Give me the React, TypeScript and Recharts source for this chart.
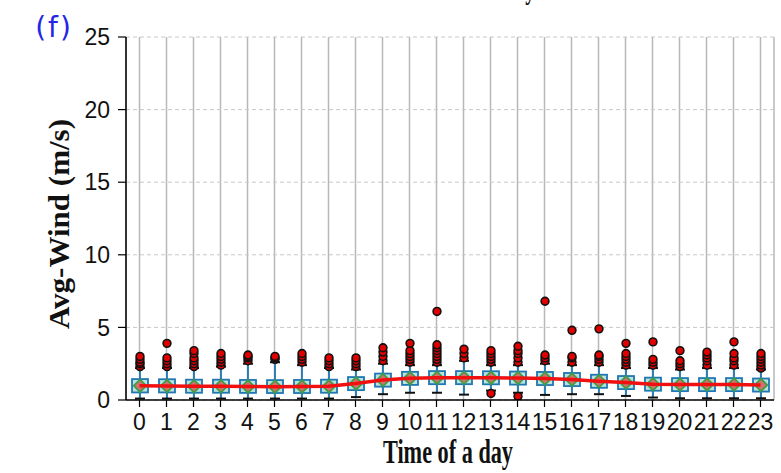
import React from 'react';
import { ComposedChart, Bar, Line, XAxis, YAxis, CartesianGrid } from 'recharts';

const hours = ['0','1','2','3','4','5','6','7','8','9','10','11','12','13','14','15','16','17','18','19','20','21','22','23'];
const means = [0.98,0.97,0.94,0.94,0.93,0.92,0.93,0.94,1.13,1.37,1.49,1.54,1.54,1.53,1.51,1.48,1.41,1.29,1.2,1.09,1.06,1.06,1.06,1.03];
const q1s = [0.52,0.52,0.5,0.5,0.49,0.48,0.48,0.5,0.68,0.92,1.04,1.09,1.09,1.08,1.06,1.03,0.96,0.84,0.75,0.64,0.61,0.61,0.61,0.58];
const q3s = [1.44,1.43,1.4,1.4,1.38,1.37,1.38,1.4,1.58,1.82,1.94,1.99,1.99,1.98,1.96,1.93,1.86,1.74,1.65,1.54,1.51,1.51,1.51,1.48];
const whiskLow = [0.1,0.1,0.1,0.1,0.1,0.1,0.1,0.1,0.2,0.4,0.5,0.5,0.37,0.65,0.5,0.35,0.4,0.4,0.28,0.17,0.12,0.12,0.12,0.12];
const whiskHigh = [2.2,2.2,2.2,2.3,2.5,2.6,2.4,2.2,2.1,2.5,2.4,2.4,2.7,2.4,2.4,2.5,2.4,2.4,2.2,2.2,2.1,2.2,2.2,2.1];
const outliers: number[][] = [
  [2.3,2.5,2.6,2.8,3.0],
  [2.3,2.5,2.7,2.9,3.9],
  [2.3,2.5,2.7,2.9,3.2,3.4],
  [2.4,2.6,2.8,3.0,3.2],
  [2.7,2.9,3.0,3.1],
  [2.8,2.9,3.0],
  [2.6,2.8,3.0,3.2],
  [2.3,2.5,2.7,2.9],
  [2.3,2.5,2.7,2.9],
  [2.7,3.0,3.3,3.6],
  [2.6,2.8,3.0,3.2,3.4,3.9],
  [2.6,2.8,3.0,3.2,3.4,3.6,3.8,6.1],
  [2.9,3.2,3.5],
  [0.45,2.6,2.8,3.0,3.2,3.4],
  [0.25,2.6,2.9,3.2,3.4,3.7],
  [2.7,2.9,3.1,6.8],
  [2.6,2.9,3.0,4.8],
  [2.6,2.8,3.0,3.1,4.9],
  [2.4,2.6,2.8,3.0,3.2,3.9],
  [2.4,2.6,2.8,4.0],
  [2.3,2.5,2.7,3.4],
  [2.4,2.7,2.9,3.1,3.3],
  [2.4,2.7,2.9,3.2,4.0],
  [2.2,2.4,2.6,2.8,3.0,3.2],
];
const yTicks = [0, 5, 10, 15, 20, 25];

const rows = hours.map((h, i) => ({
  hour: h,
  mean: means[i],
  q1: q1s[i],
  q3: q3s[i],
  low: whiskLow[i],
  high: Math.max(whiskHigh[i], ...outliers[i]),
  wHigh: whiskHigh[i],
  out: outliers[i],
}));

const BoxShape = (props: any) => {
  const { x, y, width, height, payload } = props;
  if (!payload || !height) return null;
  const lo = payload.low;
  const hi = payload.high;
  const unit = height / (hi - lo);
  const Y = (v: number) => y + (hi - v) * unit;
  const cx = x + width / 2;
  const bw = 16;
  const capW = 5;
  const ym = Y(payload.mean);
  const d = 7.5;
  return (
    <g>
      <line x1={cx} x2={cx} y1={Y(payload.q3)} y2={Y(payload.wHigh)} stroke="#1f77b4" strokeWidth={1.8} />
      <line x1={cx} x2={cx} y1={Y(payload.q1)} y2={Y(payload.low)} stroke="#1f77b4" strokeWidth={1.8} />
      <line x1={cx - capW} x2={cx + capW} y1={Y(payload.low)} y2={Y(payload.low)} stroke="#111" strokeWidth={2} />
      <line x1={cx - capW} x2={cx + capW} y1={Y(payload.wHigh)} y2={Y(payload.wHigh)} stroke="#111" strokeWidth={2} />
      <rect x={cx - bw / 2} y={Y(payload.q3)} width={bw} height={Y(payload.q1) - Y(payload.q3)} fill="#b9e2dc" stroke="#1f77b4" strokeWidth={1.8} />
      <polygon points={`${cx},${ym - d} ${cx + d},${ym} ${cx},${ym + d} ${cx - d},${ym}`} fill="#3e9e45" />
      <polygon points={`${cx},${ym - 5} ${cx + 5},${ym} ${cx},${ym + 5} ${cx - 5},${ym}`} fill="#d4706f" />
      {payload.out.map((v: number, k: number) => (
        <circle key={k} cx={cx} cy={Y(v)} r={3.9} fill="#e00000" stroke="#111" strokeWidth={1.6} />
      ))}
    </g>
  );
};

export default function App() {
  return (
    <div style={{ position: 'absolute', left: 0, top: 0, width: 781, height: 473, background: '#fff' }}>
      <ComposedChart width={781} height={473} data={rows} margin={{ top: 37, right: 7, left: 66, bottom: 32 }}>
        <CartesianGrid horizontal={false} stroke="#b8b8b8" strokeWidth={1.5} />
        <CartesianGrid vertical={false} stroke="#c8c8c8" strokeDasharray="4 3" />
        <XAxis
          dataKey="hour"
          type="category"
          interval={0}
          padding={{ left: 0, right: 0 }}
          tickSize={7}
          tickMargin={7}
          height={41}
          axisLine={{ stroke: '#000', strokeWidth: 1.5 }}
          tickLine={{ stroke: '#000', strokeWidth: 1.2 }}
          tick={{ fill: '#111', fontSize: 23, fontFamily: 'Liberation Sans, Arial, sans-serif' }}
        />
        <XAxis xAxisId="top" dataKey="hour" orientation="top" height={0} tick={false} tickLine={false} axisLine={{ stroke: '#000', strokeWidth: 1.5 }} />
        <YAxis
          domain={[0, 25]}
          ticks={yTicks}
          interval={0}
          allowDataOverflow
          width={60}
          tickSize={8}
          tickMargin={8}
          axisLine={{ stroke: '#000', strokeWidth: 1.5 }}
          tickLine={{ stroke: '#000', strokeWidth: 1.2 }}
          tick={{ fill: '#111', fontSize: 23, fontFamily: 'Liberation Sans, Arial, sans-serif' }}
        />
        <YAxis yAxisId="right" orientation="right" domain={[0, 25]} width={0} tick={false} tickLine={false} axisLine={{ stroke: '#000', strokeWidth: 1.5 }} />
        <Line dataKey="mean" stroke="#f01010" strokeWidth={3.5} dot={false} isAnimationActive={false} />
        <Bar dataKey={(d: any) => [d.low, d.high]} barSize={16} shape={<BoxShape />} isAnimationActive={false} />
      </ComposedChart>
      <svg width={781} height={473} style={{ position: 'absolute', left: 0, top: 0, pointerEvents: 'none' }}>
        <text x={450} y={-1} textAnchor="middle" fontFamily="Liberation Serif, Times New Roman, serif" fontWeight="bold" fontSize={30} textLength={170} lengthAdjust="spacingAndGlyphs" fill="#111">Mean Wind of a day</text>
        <text x={54} y={37} textAnchor="middle" fontFamily="DejaVu Sans, sans-serif" fontSize={28} letterSpacing={2} fill="#2525e6">(f)</text>
        <text x={448} y={463} textAnchor="middle" fontFamily="Liberation Serif, Times New Roman, serif" fontWeight="bold" fontSize={33} textLength={130} lengthAdjust="spacingAndGlyphs" fill="#111">Time of a day</text>
        <text x={69} y={224} transform="rotate(-90 69 224)" textAnchor="middle" fontFamily="Liberation Serif, Times New Roman, serif" fontWeight="bold" fontSize={30} textLength={210} lengthAdjust="spacingAndGlyphs" fill="#111">Avg-Wind (m/s)</text>
      </svg>
    </div>
  );
}
